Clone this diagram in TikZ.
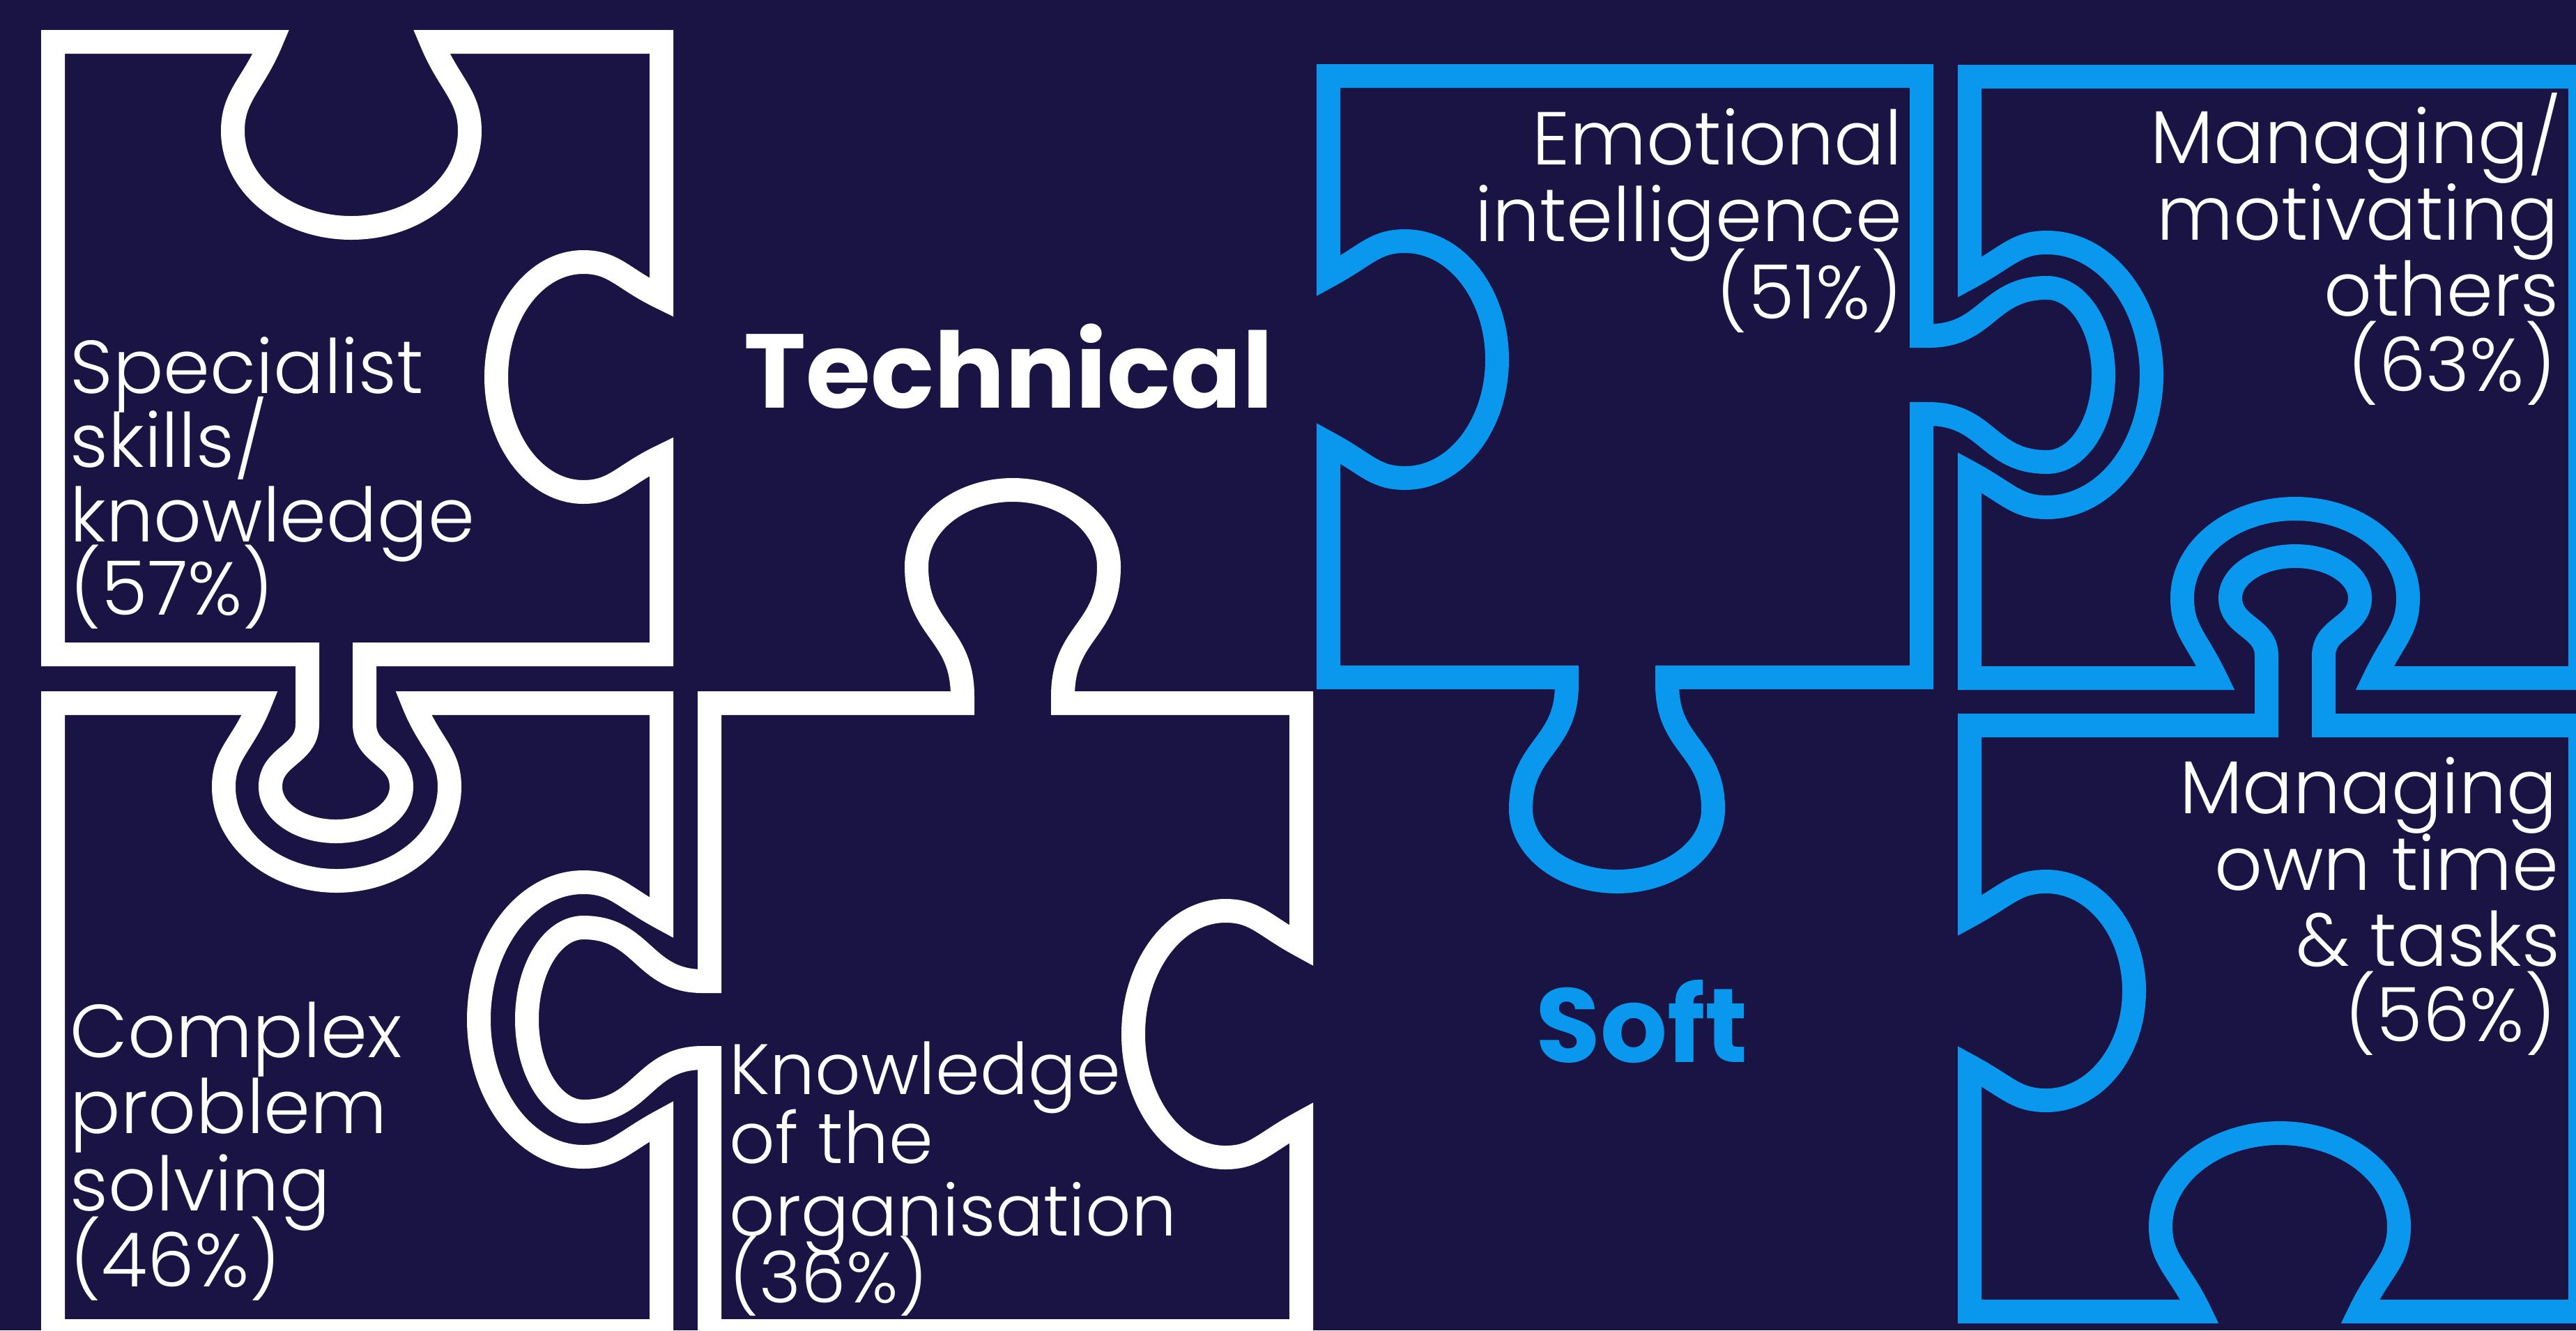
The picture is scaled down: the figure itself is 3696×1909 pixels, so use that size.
\documentclass[tikz,border=0pt]{standalone}
\usepackage{fontspec}
\setmainfont{Poppins}[UprightFont=* Light, BoldFont=* Bold]
\definecolor{navy}{RGB}{26,20,68}
\definecolor{sky}{RGB}{10,152,239}
% tab: #1 half-width at edge, #2 neck half-width, #3 neck depth, #4 bulb half-width, #5 bulb depth, #6 tip depth
\newcommand\tabk[6]{-- (-#1,0) .. controls (-#1,{0.5*#3}) and (-#2,{0.5*#3}) .. (-#2,#3)
 .. controls (-#2,{#3+0.5*(#5-#3)}) and (-#4,{#5-0.5*(#5-#3)}) .. (-#4,#5)
 .. controls (-#4,{#5+0.552*(#6-#5)}) and ({-0.552*#4},#6) .. (0,#6)
 .. controls ({0.552*#4},#6) and (#4,{#5+0.552*(#6-#5)}) .. (#4,#5)
 .. controls (#4,{#5-0.5*(#5-#3)}) and (#2,{#3+0.5*(#5-#3)}) .. (#2,#3)
 .. controls (#2,{0.5*#3}) and (#1,{0.5*#3}) .. (#1,0)}
% hole: #1 half-width at edge, #2 bulb half-width, #3 bulb depth, #4 tip depth, #5 tilt, #6 control length
\newcommand\holek[6]{-- (-#1,0) .. controls ({-#1-#5*#3},{#6*#3}) and (-#2,{0.6*#3}) .. (-#2,#3)
 .. controls (-#2,{#3+0.552*(#4-#3)}) and ({-0.552*#2},#4) .. (0,#4)
 .. controls ({0.552*#2},#4) and (#2,{#3+0.552*(#4-#3)}) .. (#2,#3)
 .. controls (#2,{0.6*#3}) and ({#1+#5*#3},{#6*#3}) .. (#1,0)}
\tikzset{
 piece/.style={line width=8.5pt, line join=miter, miter limit=6},
 wpiece/.style={piece, draw=white},
 bpiece/.style={piece, draw=sky},
 lbl/.style={text=white, inner sep=0pt, font=\fontsize{26.9}{30}\selectfont},
 lblk/.style={text=white, inner sep=0pt, font=\fontsize{25.6}{30}\selectfont},
 head/.style={inner sep=0pt, font=\fontsize{37.7}{40}\selectfont\bfseries}
}
\begin{document}
\begin{tikzpicture}[x=0.25pt,y=-0.25pt]
\useasboundingbox (0,0) rectangle (3696,1909);
\fill[navy] (0,0) rectangle (3696,1909);
\clip (0,0) rectangle (3696,1909);

% A: Specialist skills
\draw[wpiece] (76,60) {[shift={(504,60)}] \holek{115}{170}{128}{267}{0.2}{0.48}} -- (949,60)
 {[shift={(949,541)},rotate=-90] \holek{114}{165}{112}{237}{0.24}{0.5}} -- (949,939)
 {[shift={(482,939)},rotate=180,yscale=-1] \tabk{41}{41}{100}{94}{190}{254}} -- (76,939) -- cycle;
% C: Complex problem solving
\draw[wpiece] (76,1009) {[shift={(483,1009)}] \holek{110}{162}{120}{255}{0.2}{0.5}} -- (949,1009)
 {[shift={(949,1463)},rotate=-90] \holek{146}{197}{112}{262}{0.27}{0.5}} -- (949,1910) -- (76,1910) -- cycle;
% D: Knowledge of the organisation
\draw[wpiece] (1018,1009) {[shift={(1453,1009)},yscale=-1] \tabk{72}{72}{10}{138}{196}{306}} -- (1867,1009)
 {[shift={(1867,1484)},rotate=-90] \holek{127}{177}{109}{241}{0.27}{0.5}} -- (1867,1910) -- (1018,1910)
 {[shift={(1018,1463)},rotate=90,yscale=-1] \tabk{55}{55}{10}{132}{181}{262}} -- cycle;
% E: Emotional intelligence
\draw[bpiece] (1906,109) -- (2757,109)
 {[shift={(2757,538)},rotate=-90,yscale=-1] \tabk{56}{56}{10}{125}{180}{261}} -- (2757,972)
 {[shift={(2320,972)},rotate=180,yscale=-1] \tabk{72}{72}{10}{138}{189}{293}} -- (1906,972)
 {[shift={(1906,516)},rotate=90] \holek{120}{170}{110}{242}{0.27}{0.5}} -- cycle;
% F: Managing/motivating others
\draw[bpiece] (2826,110) -- (3702,110) -- (3702,973)
 {[shift={(3293,973)},rotate=180] \holek{114}{162}{115}{243}{0.24}{0.5}} -- (2826,973)
 {[shift={(2826,538)},rotate=90] \holek{140}{190}{111}{261}{0.27}{0.5}} -- cycle;
% G: Managing own time & tasks
\draw[bpiece] (2826,1041) {[shift={(3293,1041)},yscale=-1] \tabk{41}{41}{100}{93}{183}{243}} -- (3702,1041) -- (3702,1882)
 {[shift={(3271,1882)},rotate=180] \holek{115}{171}{122}{256}{0.24}{0.5}} -- (2826,1882)
 {[shift={(2826,1422)},rotate=90] \holek{108}{157}{110}{236}{0.27}{0.5}} -- cycle;

% headings
\node[head, text=white, anchor=base] (tech) at (1447,585) {Technical};
\node[head, text=sky, anchor=base] (soft) at (2356,1524) {Soft};

% Specialist
\node[lbl, anchor=base west] (s1) at (100,564) {Specialist};
\node[lbl, anchor=base west] (s2) at (100,670) {skills/};
\node[lbl, anchor=base west] (s3) at (100,777) {knowledge};
\node[lbl, anchor=base west] (s4) at (100,882) {(57\%)};
% Complex
\node[lbl, anchor=base west] (c1) at (100,1517) {Complex};
\node[lbl, anchor=base west] (c2) at (100,1626) {problem};
\node[lbl, anchor=base west] (c3) at (100,1737) {solving};
\node[lbl, anchor=base west] (c4) at (100,1846) {(46\%)};
% Knowledge
\node[lblk, anchor=base west] (k1) at (1046,1570) {Knowledge};
\node[lblk, anchor=base west] (k2) at (1046,1669) {of the};
\node[lblk, anchor=base west] (k3) at (1046,1773) {organisation};
\node[lblk, anchor=base west] (k4) at (1046,1869) {(36\%)};
% Emotional
\node[lbl, anchor=base east] (e1) at (2730,236) {Emotional};
\node[lbl, anchor=base east] (e2) at (2730,346) {intelligence};
\node[lbl, anchor=base east] (e3) at (2730,457) {(51\%)};
% Managing/motivating
\node[lbl, anchor=base east] (m1) at (3676,234) {Managing/};
\node[lbl, anchor=base east] (m2) at (3672,344) {motivating};
\node[lbl, anchor=base east] (m3) at (3672,453) {others};
\node[lbl, anchor=base east] (m4) at (3668,561) {(63\%)};
% Managing own time
\node[lbl, anchor=base east] (t1) at (3670,1167) {Managing};
\node[lbl, anchor=base east] (t2) at (3672,1277) {own time};
\node[lbl, anchor=base east] (t3) at (3674,1386) {\&~tasks};
\node[lbl, anchor=base east] (t4) at (3668,1494) {(56\%)};
\end{tikzpicture}
\end{document}
